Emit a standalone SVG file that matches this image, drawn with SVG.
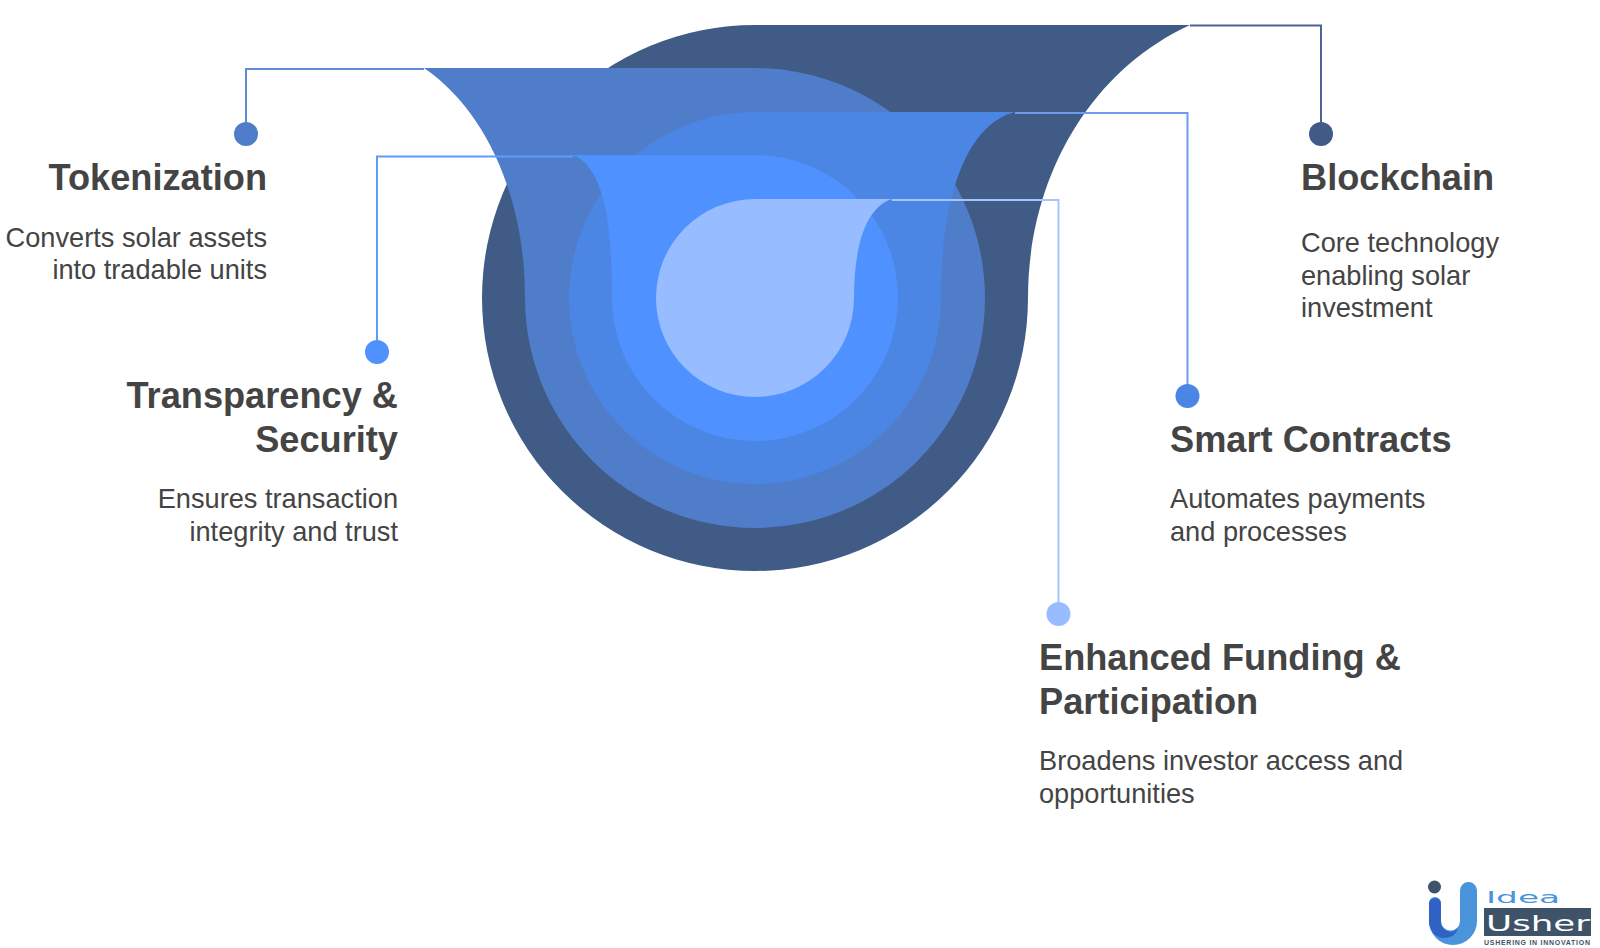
<svg xmlns="http://www.w3.org/2000/svg" width="1600" height="948" viewBox="0 0 1600 948">
<style>
text{font-family:"Liberation Sans",Arial,sans-serif;fill:#444444}
.t{font-size:36.200px;font-weight:700}
.d{font-size:27.200px}
.e{text-anchor:end}
.c{fill:none;stroke-width:2}
.a{fill:#415B87}.b{fill:#4F7DC9}.f{fill:#4C86E4}.g{fill:#4F92FF}.h{fill:#97BCFF}
</style>
<rect width="1600" height="948" fill="#fff"/>
<g id="layers">
<path class="a" d="M755 25H1190C1088 72 1028 180 1028 298A273 273 0 1 1 482 298A273 273 0 0 1 755 25Z"/>
<path class="b" d="M755 68H424C488 112 525 200 525 298A230 230 0 0 0 985 298A230 230 0 0 0 755 68Z"/>
<path class="f" d="M755 112H1015C965 125 941 200 941 298A186 186 0 0 1 569 298A186 186 0 0 1 755 112Z"/>
<path class="g" d="M755 155H573C606 168 612 230 612 298A143 143 0 0 0 898 298A143 143 0 0 0 755 155Z"/>
<path class="h" d="M755 199H892C864 208 854 250 854 298A99 99 0 0 1 656 298A99 99 0 0 1 755 199Z"/>
</g>
<g id="connectors">
<path class="c" stroke="#4A6592" d="M1190 25.500H1321V134"/>
<path class="c" stroke="#5F8BD4" d="M424 69H246V134"/>
<path class="c" stroke="#6E9CEB" d="M1015 113H1187.500V396"/>
<path class="c" stroke="#5F9BFF" d="M573 156.500H377V352"/>
<path class="c" stroke="#A5C5FF" d="M892 200H1058.500V614"/>
</g>
<g id="node-tokenization">
<circle class="b" cx="246" cy="134" r="12"/>
<text class="t e" x="267" y="190">Tokenization</text>
<text class="d e" x="267" y="247">Converts solar assets</text>
<text class="d e" x="267" y="279">into tradable units</text>
</g>
<g id="node-blockchain">
<circle class="a" cx="1321" cy="134" r="12"/>
<text class="t" x="1301" y="190">Blockchain</text>
<text class="d" x="1301" y="252">Core technology</text>
<text class="d" x="1301" y="285">enabling solar</text>
<text class="d" x="1301" y="317">investment</text>
</g>
<g id="node-transparency">
<circle class="g" cx="377" cy="352" r="12"/>
<text class="t e" x="398" y="408">Transparency &amp;</text>
<text class="t e" x="398" y="452">Security</text>
<text class="d e" x="398" y="508">Ensures transaction</text>
<text class="d e" x="398" y="541">integrity and trust</text>
</g>
<g id="node-smart-contracts">
<circle class="f" cx="1187.500" cy="396" r="12"/>
<text class="t" x="1170" y="452">Smart Contracts</text>
<text class="d" x="1170" y="508">Automates payments</text>
<text class="d" x="1170" y="541">and processes</text>
</g>
<g id="node-funding">
<circle class="h" cx="1058.500" cy="614" r="12"/>
<text class="t" x="1039" y="670">Enhanced Funding &amp;</text>
<text class="t" x="1039" y="714">Participation</text>
<text class="d" x="1039" y="770">Broadens investor access and</text>
<text class="d" x="1039" y="803">opportunities</text>
</g>
<g id="logo">
<circle cx="1434.500" cy="887" r="6.500" fill="#3F5368"/>
<path fill="#4A94DB" d="M1460 890.500A8.500 8.500 0 0 1 1477 890.500V921A24 24 0 0 1 1429 921V903A5.500 5.500 0 0 1 1441 903V921A9.500 9.500 0 0 0 1460 921Z"/>
<path fill="#2F62C4" d="M1429 904A6 6 0 0 1 1441 904V921A9.500 9.500 0 0 0 1458 928C1456 935 1450 938 1444 938C1435 938 1429 930 1429 921Z"/>
<text x="1486" y="903" textLength="74" lengthAdjust="spacingAndGlyphs" style="font-size:15px;fill:#4A94DB;font-family:'DejaVu Sans',sans-serif">Idea</text>
<rect x="1484" y="908" width="107" height="28" fill="#3F5368"/>
<text x="1486" y="931" textLength="104" lengthAdjust="spacingAndGlyphs" style="font-size:21px;fill:#fff;font-family:'DejaVu Sans',sans-serif">Usher</text>
<text x="1484" y="945" textLength="106" style="font-size:7px;font-weight:700;fill:#3F5368">USHERING IN INNOVATION</text>
</g>
</svg>
